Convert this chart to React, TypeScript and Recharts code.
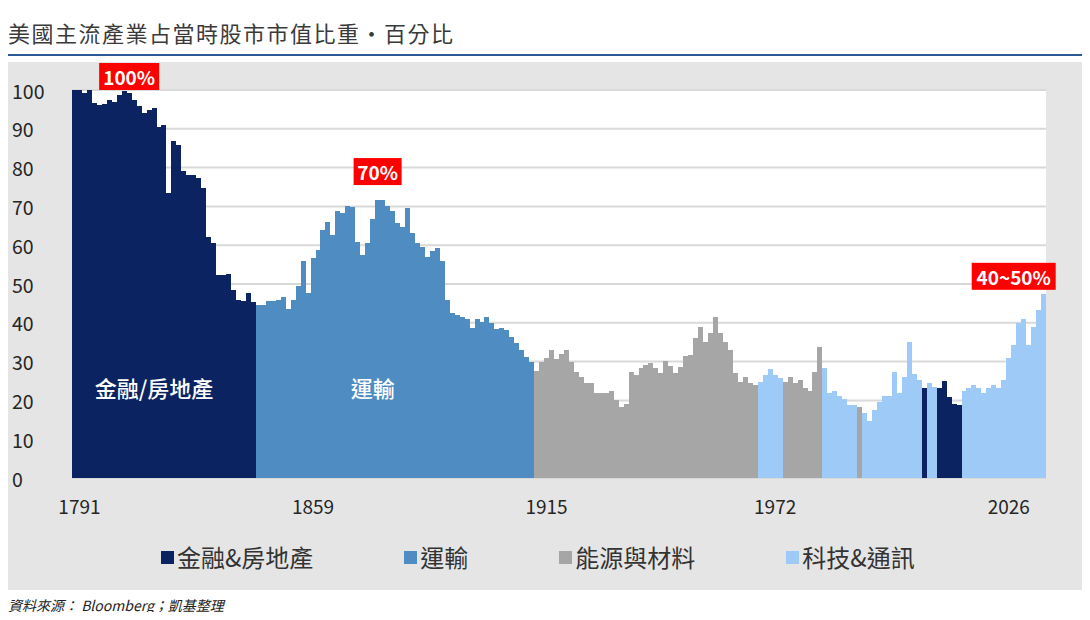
import { BarChart, Bar, Cell, XAxis, YAxis, CartesianGrid, ReferenceDot } from 'recharts';

const FONT = '"Noto Sans CJK TC", "Noto Sans", sans-serif';

const SECTORS = [
  { name: '金融&房地產', color: '#0c2361' },
  { name: '運輸', color: '#4f8cc2' },
  { name: '能源與材料', color: '#a6a6a6' },
  { name: '科技&通訊', color: '#9dcaf6' },
];

// share of total US market cap held by the leading sector, one bar per period
const SHARE = [
  100, 100, 99.3, 100, 96.7, 96.1, 96.5, 97.3, 96.8, 98.7,
  99.7, 99.1, 97.4, 95.9, 94.2, 94.8, 95.3, 90.5, 91, 73.4,
  86.9, 85.8, 79, 78.1, 78.1, 77.2, 74.7, 62, 60.5, 52.3,
  52.3, 52.7, 48.5, 46, 45.7, 47.6, 45.4, 44.6, 44.6, 45.7,
  45.7, 45.9, 46.7, 43.5, 45.9, 49.5, 55.9, 47.6, 56.8, 58.8,
  63.9, 65.9, 62.6, 68.9, 68.2, 70.1, 69.8, 60.9, 57.5, 60.5,
  66.7, 71.6, 71.6, 70.1, 68.8, 65.8, 64.6, 69.5, 63.1, 60.6,
  59.6, 57, 58.5, 59.2, 55.8, 45.9, 42.4, 42, 41.6, 40.9,
  38.6, 40.9, 40.3, 41.6, 39.9, 38.3, 38.7, 38.1, 36.3, 34.7,
  33, 31.1, 30, 27.7, 30, 30.8, 33, 30.6, 32, 33,
  30, 27.4, 26.1, 24.4, 24.4, 21.8, 21.8, 21.8, 22.4, 20.1,
  18.4, 19.2, 27.4, 26.5, 28.3, 29.1, 29.6, 28.3, 27, 30.2,
  28.9, 27, 28.7, 31.4, 31.7, 36, 39, 35.1, 37.3, 41.6,
  37.3, 35.1, 33, 27, 24.8, 26.1, 24.6, 24, 24.8, 26.5,
  28, 26.5, 25.7, 24.8, 26.1, 24.4, 25.3, 23.1, 22.4, 27.4,
  33.8, 28.3, 21.8, 22.5, 21.1, 20.3, 18.8, 18.8, 18.2, 16.8,
  14.8, 17.5, 19.7, 21.1, 21.1, 27.4, 22, 26.1, 35.1, 26.7,
  25.3, 23.3, 24.6, 23.4, 23.1, 25.1, 21, 19.2, 18.8, 22.3,
  23.1, 24, 23.1, 21.8, 23.1, 24, 23.1, 25.3, 30.8, 34.3,
  39.9, 40.9, 34.3, 39, 43.3, 47.5,
];

// leading sector over time: [sector index, number of bars]
const LEADER_RUNS: [number, number][] = [
  [0, 37], [1, 56], [2, 45], [3, 5], [2, 8], [3, 7], [2, 1], [3, 12], [0, 1], [3, 2], [0, 5], [3, 17],
];

const TICK_AT = [1, 48, 95, 141, 188];
const TICK_YEARS = ['1791', '1859', '1915', '1972', '2026'];
const Y_TICKS = [0, 10, 20, 30, 40, 50, 60, 70, 80, 90, 100];

const CALLOUTS = [
  { at: 11, top: 100, text: '100%' },
  { at: 61, top: 75.5, text: '70%' },
  { at: 189, top: 48.5, text: '40~50%' },
];

const SECTOR_TAGS = [
  { at: 16, level: 23.5, text: '金融/房地產' },
  { at: 60, level: 23.5, text: '運輸' },
];

const leaders: number[] = LEADER_RUNS.flatMap(([s, n]) => Array(n).fill(s));
const data = SHARE.map((share, idx) => ({ idx, share, sector: leaders[idx] }));

function YearTick({ x, y, payload }: any) {
  const k = TICK_AT.indexOf(payload.value);
  if (k < 0) return <g />;
  return (
    <text x={x} y={y + 19} textAnchor="middle" dominantBaseline="central" fontSize={19} fill="#262626" fontFamily={FONT}>
      {TICK_YEARS[k]}
    </text>
  );
}

function ShareTick({ y, payload }: any) {
  return (
    <text x={4} y={y} dominantBaseline="central" fontSize={19.5} fill="#262626" fontFamily={FONT}>
      {payload.value}
    </text>
  );
}

function Callout({ cx, cy, text }: { cx: number; cy: number; text: string }) {
  const w = text.length * 12 + 12;
  return (
    <g>
      <rect x={cx - w / 2} y={cy - 27} width={w} height={27} fill="#ff0000" />
      <text x={cx} y={cy - 13.5} textAnchor="middle" dominantBaseline="central" fill="#fff" fontWeight={700} fontSize={19} fontFamily={FONT}>
        {text}
      </text>
    </g>
  );
}

export default function App() {
  return (
    <div style={{ position: 'relative', width: 1082, height: 604, fontFamily: FONT, color: '#333' }}>
      <div style={{ position: 'absolute', left: 0, top: 11, fontSize: 22, lineHeight: '26px', color: '#3a3a3a', letterSpacing: 1.5 }}>
        美國主流產業占當時股市市值比重・百分比
      </div>
      <div style={{ position: 'absolute', left: -1, top: 46, width: 1082, height: 2, background: '#2b5a94' }} />
      <div style={{ position: 'absolute', left: 0, top: 54, width: 1076, height: 528, background: '#e5e5e5' }}>
        <BarChart
          width={1076}
          height={528}
          data={data}
          margin={{ top: 28, right: 38, left: 0, bottom: 72 }}
          barCategoryGap={0}
          barGap={0}
        >
          <CartesianGrid vertical={false} stroke="#d9d9d9" strokeWidth={2} fill="#ffffff" />
          <XAxis
            dataKey="idx"
            type="category"
            interval={0}
            tickLine={false}
            axisLine={false}
            height={40}
            tick={<YearTick />}
          />
          <YAxis
            domain={[0, 100]}
            ticks={Y_TICKS}
            interval={0}
            width={64}
            axisLine={false}
            tickLine={false}
            tick={<ShareTick />}
          />
          <Bar dataKey="share" isAnimationActive={false}>
            {data.map((d) => (
              <Cell key={d.idx} fill={SECTORS[d.sector].color} shapeRendering="crispEdges" />
            ))}
          </Bar>
          {SECTOR_TAGS.map((t) => (
            <ReferenceDot
              key={t.text}
              x={t.at}
              y={t.level}
              shape={(p: any) => (
                <text x={p.cx} y={p.cy} textAnchor="middle" dominantBaseline="central" fill="#fff" fontSize={22} fontWeight={500} fontFamily={FONT}>
                  {t.text}
                </text>
              )}
            />
          ))}
          {CALLOUTS.map((c) => (
            <ReferenceDot
              key={c.text}
              x={c.at}
              y={c.top}
              shape={(p: any) => <Callout cx={p.cx} cy={p.cy} text={c.text} />}
            />
          ))}
        </BarChart>
      </div>
      <div style={{ position: 'absolute', left: 153, top: 535, height: 28, display: 'flex', alignItems: 'center', gap: 91 }}>
        {SECTORS.map((s) => (
          <div key={s.name} style={{ display: 'flex', alignItems: 'center', gap: 3 }}>
            <span style={{ width: 13, height: 13, background: s.color, display: 'inline-block' }} />
            <span style={{ fontSize: 24, lineHeight: '28px', color: '#333' }}>{s.name}</span>
          </div>
        ))}
      </div>
      <div style={{ position: 'absolute', left: 0, top: 588, fontSize: 14, lineHeight: '18px', fontStyle: 'italic', color: '#222' }}>
        資料來源： Bloomberg；凱基整理
      </div>
    </div>
  );
}
